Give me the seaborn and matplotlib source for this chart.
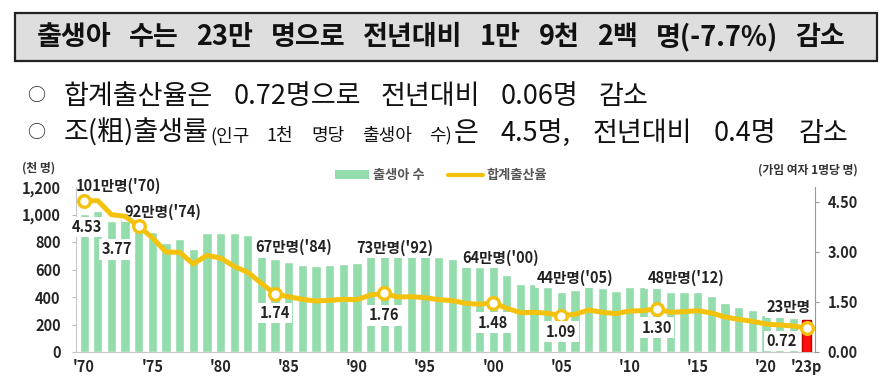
import numpy as np
import pandas as pd
import matplotlib
matplotlib.use("Agg")
import matplotlib.pyplot as plt
import seaborn as sns
from matplotlib.patches import Rectangle, Patch
from matplotlib.lines import Line2D

# ---- data -------------------------------------------------------------
years = list(range(1970, 2024))
births = [1006.6, 1024.8, 952.8, 965.5, 922.8, 874.9, 796.3, 825.3, 750.7, 862.7,
          862.8, 867.4, 848.3, 769.2, 674.8, 655.5, 636.0, 623.8, 633.1, 639.4,
          649.7, 709.3, 730.7, 715.8, 721.2, 715.0, 691.2, 675.4, 641.6, 620.7,
          640.1, 559.9, 496.9, 495.0, 476.0, 435.0, 448.2, 493.2, 465.9, 444.8,
          470.2, 471.3, 484.6, 436.5, 435.4, 438.4, 406.2, 357.8, 326.8, 302.7,
          272.3, 260.6, 249.2, 230.0]
tfr = [4.53, 4.54, 4.12, 4.07, 3.77, 3.43, 3.00, 2.99, 2.64, 2.90,
       2.82, 2.57, 2.39, 2.06, 1.74, 1.66, 1.58, 1.53, 1.55, 1.58,
       1.57, 1.71, 1.76, 1.65, 1.66, 1.63, 1.57, 1.54, 1.46, 1.43,
       1.48, 1.31, 1.18, 1.19, 1.16, 1.09, 1.13, 1.26, 1.19, 1.15,
       1.23, 1.24, 1.30, 1.19, 1.21, 1.24, 1.17, 1.05, 0.98, 0.92,
       0.84, 0.81, 0.78, 0.72]

marked_years = [1970, 1974, 1984, 1992, 2000, 2005, 2012, 2023]
tfr_labels = ["4.53", "3.77", "1.74", "1.76", "1.48", "1.09", "1.30", "0.72"]
birth_labels = ["101만명('70)", "92만명('74)", "67만명('84)", "73만명('92)",
                "64만명('00)", "44만명('05)", "48만명('12)", "23만명"]

xtick_years = [1970, 1975, 1980, 1985, 1990, 1995, 2000, 2005, 2010, 2015, 2020, 2023]
xtick_labels = ["'70", "'75", "'80", "'85", "'90", "'95", "'00", "'05", "'10", "'15", "'20", "'23p"]

title_words = ["출생아", "수는", "23만", "명으로", "전년대비", "1만", "9천", "2백", "명(-7.7%)", "감소"]
line1_words = ["합계출산율은", "0.72명으로", "전년대비", "0.06명", "감소"]
line2_head = "조(粗)출생률"
line2_note = ["(인구", "1천", "명당", "출생아", "수)"]
line2_tail = ["은", "4.5명,", "전년대비", "0.4명", "감소"]

# label offsets in pixels (dx, dy) from the marker / bar top
tfr_off = [(3, -26), (-22, -23), (0, -19), (0, -22), (0, -20), (0, -16), (0, -19), (-25, -13)]
birth_off = [(34, 28), (24, 13), (19, 12), (11, 4), (7, 6), (14, 14), (29, 7), (-18, 13)]

GREEN = "#93dcab"
RED = "#ff1010"
GOLD = "#f4c20d"

sns.set_style("white")
plt.rcParams["font.family"] = ["Noto Sans CJK KR", "DejaVu Sans"]

fig = plt.figure(figsize=(8.89, 3.82), dpi=100)
W, H = 889, 382
renderer = fig.canvas.get_renderer()


def fx(px):
    return px / W


def fy(py):
    return 1 - py / H


def spread(words, x0, x1, y, **kw):
    """lay words on one baseline so that they run from x0 to x1 (pixels)"""
    texts = [fig.text(0, fy(y), w, ha="left", va="baseline", **kw) for w in words]
    widths = [t.get_window_extent(renderer).width for t in texts]
    gap = (x1 - x0 - sum(widths)) / max(len(words) - 1, 1)
    x = x0
    for t, w in zip(texts, widths):
        t.set_x(fx(x))
        x += w + gap
    return x - gap


# ---- title box ---------------------------------------------------------
fig.patches.append(Rectangle((fx(15), fy(61)), fx(862), 48 / H, transform=fig.transFigure,
                             facecolor="#dedede", edgecolor="#222", lw=1.6))
spread(title_words, 37, 845, 45, fontsize=19.5, fontweight="bold", color="#111")

# ---- sub headlines -----------------------------------------------------
fig.text(fx(27), fy(96), "○", ha="left", va="center", fontsize=13, color="#222")
fig.text(fx(27), fy(133), "○", ha="left", va="center", fontsize=13, color="#222")
spread(line1_words, 64, 648, 104, fontsize=19.5, color="#111")
end = spread([line2_head], 64, 64, 141, fontsize=19.5, color="#111")
end = spread(line2_note, end + 1, 452, 141, fontsize=13, color="#111")
spread(line2_tail, end + 2, 848, 141, fontsize=19.5, color="#111")

# ---- chart -------------------------------------------------------------
ax = fig.add_axes([fx(76), fy(352), fx(815 - 76), (352 - 187) / H])
df = pd.DataFrame({"year": years, "births": births, "tfr": tfr})

sns.barplot(data=df, x="year", y="births", native_scale=True, color=GREEN,
            width=0.68, saturation=1, ax=ax, zorder=1)
ax.patches[-1].set_facecolor(RED)
ax.patches[-1].set_edgecolor("#c00000")
ax.set_xlim(1969.4, 2023.6)
ax.set_ylim(0, 1200)
ax.set_yticks(range(0, 1201, 200))
ax.set_yticklabels([f"{v:,}" for v in range(0, 1201, 200)], fontsize=10.5, fontweight="bold")
ax.set_xticks(xtick_years)
ax.set_xticklabels(xtick_labels, fontsize=10.5, fontweight="bold")
ax.tick_params(axis="x", length=0, pad=5)
ax.tick_params(axis="y", length=3, color="#bbb", pad=8, left=True)
ax.set_xlabel("")
ax.set_ylabel("")
for s in ["top", "right"]:
    ax.spines[s].set_visible(False)
for s in ["left", "bottom"]:
    ax.spines[s].set_color("#c8c8c8")

ax2 = ax.twinx()
sns.lineplot(data=df, x="year", y="tfr", color=GOLD, lw=3.6, ax=ax2,
             solid_joinstyle="round", solid_capstyle="round", zorder=3)
mk = df[df["year"].isin(marked_years)]
sns.scatterplot(data=mk, x="year", y="tfr", s=70, color="white", edgecolor=GOLD,
                linewidth=2.4, ax=ax2, zorder=4)
ax2.set_ylim(0, 4.95)
ax2.set_yticks([0, 1.5, 3.0, 4.5])
ax2.set_yticklabels(["0.00", "1.50", "3.00", "4.50"], fontsize=10.5, fontweight="bold")
ax2.tick_params(axis="y", length=3, color="#999", pad=6, right=True)
ax2.set_ylabel("")
ax2.set_xlabel("")
for s in ["top", "left", "bottom"]:
    ax2.spines[s].set_visible(False)
ax2.spines["right"].set_color("#999")

box = dict(boxstyle="square,pad=0.15", facecolor="white", edgecolor="none")
for yr, lab, (dx, dy) in zip(marked_years, tfr_labels, tfr_off):
    v = tfr[years.index(yr)]
    ax2.annotate(lab, (yr, v), xytext=(dx, dy), textcoords="offset pixels",
                 ha="center", va="center", fontsize=10.5, fontweight="bold",
                 color="#222", bbox=box, zorder=5)
for yr, lab, (dx, dy) in zip(marked_years, birth_labels, birth_off):
    v = births[years.index(yr)]
    ax.annotate(lab, (yr, v), xytext=(dx, dy), textcoords="offset pixels",
                ha="center", va="center", fontsize=10.5, fontweight="bold",
                color="#222", bbox=box, zorder=2)

# unit labels + legend
fig.text(fx(22), fy(168), "(천 명)", ha="left", va="center", fontsize=8.5,
         fontweight="bold", color="#333")
fig.text(fx(858), fy(170), "(가임 여자 1명당 명)", ha="right", va="center", fontsize=8.5,
         fontweight="bold", color="#333")
handles = [Patch(facecolor=GREEN, edgecolor="none"),
           Line2D([], [], color=GOLD, lw=3)]
leg = fig.legend(handles, ["출생아 수", "합계출산율"], loc="center",
                 bbox_to_anchor=(fx(441), fy(175)), ncol=2, frameon=False,
                 handlelength=2.6, handleheight=0.6, columnspacing=1.8, handletextpad=0.3,
                 prop={"weight": "bold", "size": 9.5})
for t in leg.get_texts():
    t.set_color("#555")

fig.savefig("out.png", dpi=100)
